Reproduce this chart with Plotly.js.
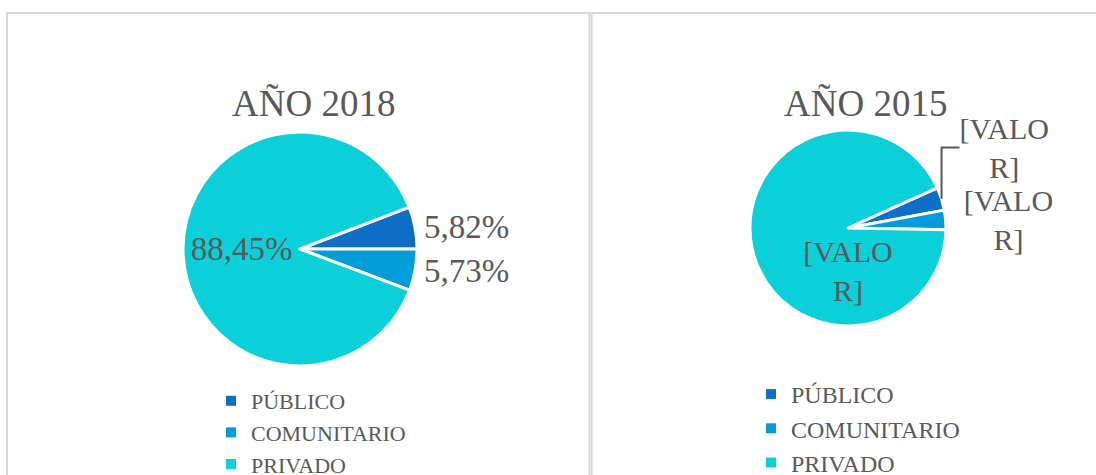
<!DOCTYPE html>
<html>
<head>
<meta charset="utf-8">
<script src="https://cdn.plot.ly/plotly-3.0.1.min.js"></script>
<style>html,body{margin:0;padding:0;background:#fff}#chart{width:1096px;height:475px}</style>
</head>
<body>
<div id="chart"></div>
<script>
// Data
const categories = ['PÚBLICO', 'COMUNITARIO', 'PRIVADO'];
const values2018 = [5.82, 5.73, 88.45];
const values2015 = [3.8, 3.2, 93.0];           // (labels unreadable: "[VALOR]")
const labels2015 = ['[VALO<br>R]', '[VALO<br>R]', '[VALO<br>R]'];
const titles = ['AÑO 2018', 'AÑO 2015'];
const colors = ['#0F6FC6', '#009DD9', '#0BD0D9'];

const W = 1096, H = 475;
const px = v => v / W;
const py = v => 1 - v / H;
const FONT = '"Liberation Serif", "Times New Roman", serif';
const TXT = '#595959';

const pie2018 = {
  type: 'pie',
  labels: categories,
  values: values2018,
  sort: false,
  direction: 'clockwise',
  rotation: 90 - values2018[0] * 3.6,
  marker: {colors: colors, line: {color: '#ffffff', width: 3}},
  texttemplate: '%{percent:.2%}',
  textposition: ['outside', 'outside', 'inside'],
  insidetextorientation: 'horizontal',
  textfont: {family: FONT, size: 33, color: TXT},
  outsidetextfont: {family: FONT, size: 33, color: TXT},
  insidetextfont: {family: FONT, size: 33, color: TXT},
  domain: {x: [px(183), px(417)], y: [py(366), py(132)]},
  hoverinfo: 'label+percent',
  showlegend: false
};

const pie2015 = {
  type: 'pie',
  labels: categories,
  values: values2015,
  text: labels2015,
  sort: false,
  direction: 'clockwise',
  rotation: 91 - (values2015[0] + values2015[1]) * 3.6,
  marker: {colors: colors, line: {color: '#ffffff', width: 3}},
  textinfo: 'text',
  textposition: ['outside', 'outside', 'inside'],
  insidetextorientation: 'horizontal',
  textfont: {family: FONT, size: 30, color: TXT},
  outsidetextfont: {family: FONT, size: 30, color: TXT},
  insidetextfont: {family: FONT, size: 30, color: TXT},
  domain: {x: [px(750), px(946)], y: [py(326), py(130)]},
  hoverinfo: 'label+percent',
  showlegend: false
};

// Legend entries (one set per chart panel)
function legendTraces(legendId) {
  return categories.map((c, i) => ({
    type: 'scatter', mode: 'markers', x: [null], y: [null], name: c,
    marker: {symbol: 'square', size: 10, color: colors[i], line: {width: 0}},
    legend: legendId, showlegend: true, hoverinfo: 'skip'
  }));
}

const legendCommon = {
  bgcolor: 'rgba(0,0,0,0)',
  traceorder: 'normal',
  itemwidth: 30,
  xanchor: 'left',
  yanchor: 'top',
  tracegroupgap: 0
};

const layout = {
  width: W, height: H,
  margin: {l: 0, r: 0, t: 0, b: 0, autoexpand: false},
  paper_bgcolor: '#ffffff',
  plot_bgcolor: 'rgba(0,0,0,0)',
  separators: ',.',
  showlegend: true,
  xaxis: {visible: false, range: [0, 1]},
  yaxis: {visible: false, range: [0, 1]},
  legend: Object.assign({}, legendCommon, {x: px(211), y: py(380), font: {family: FONT, size: 22, color: TXT}}),
  legend2: Object.assign({}, legendCommon, {x: px(751), y: py(372), font: {family: FONT, size: 24, color: TXT}}),
  shapes: [
    {type: 'rect', xref: 'paper', yref: 'paper', x0: px(7), x1: px(589.5), y0: py(490), y1: py(13),
     line: {color: '#d9d9d9', width: 2}, fillcolor: 'rgba(0,0,0,0)'},
    {type: 'rect', xref: 'paper', yref: 'paper', x0: px(591.5), x1: px(1110), y0: py(490), y1: py(13),
     line: {color: '#d9d9d9', width: 2}, fillcolor: 'rgba(0,0,0,0)'}
  ],
  annotations: [
    {text: titles[0], xref: 'paper', yref: 'paper', x: px(313), y: py(103), xanchor: 'center', yanchor: 'middle',
     showarrow: false, font: {family: FONT, size: 37, color: TXT}},
    {text: titles[1], xref: 'paper', yref: 'paper', x: px(865), y: py(103), xanchor: 'center', yanchor: 'middle',
     showarrow: false, font: {family: FONT, size: 37, color: TXT}}
  ]
};

const data = [pie2018, pie2015].concat(legendTraces('legend'), legendTraces('legend2'));
Plotly.newPlot('chart', data, layout, {displayModeBar: false, staticPlot: true});
</script>
</body>
</html>
